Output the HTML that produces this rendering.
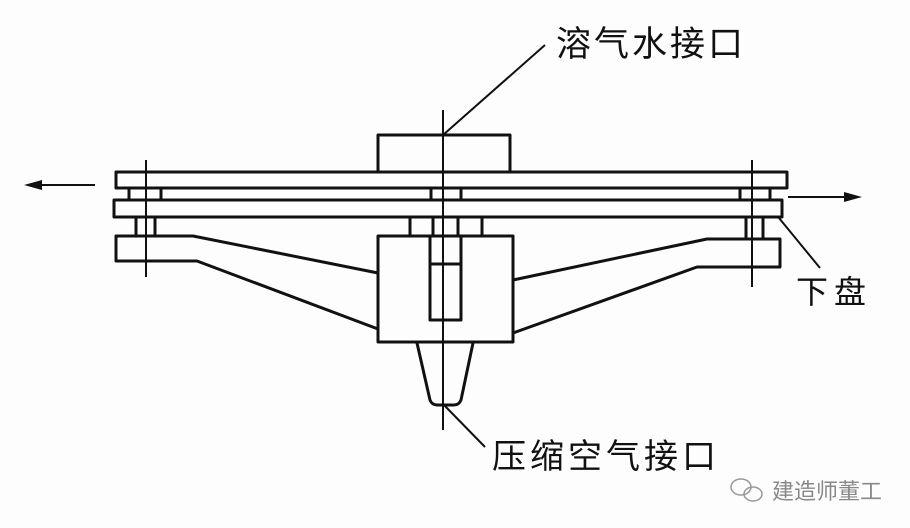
<!DOCTYPE html>
<html><head><meta charset="utf-8"><style>
html,body{margin:0;padding:0;background:#fff;}
svg{display:block}
text{font-family:"Liberation Sans","Noto Sans CJK SC",sans-serif;}
</style></head><body>
<svg width="910" height="528" viewBox="0 0 910 528" xmlns="http://www.w3.org/2000/svg">
<rect width="910" height="528" fill="#fdfdfd"/>
<g fill="none" stroke="#111" stroke-width="3" stroke-linejoin="round">
<!-- top box -->
<rect x="378" y="135" width="132" height="37"/>
<!-- top plate -->
<rect x="116" y="172" width="671" height="16"/>
<!-- spacers row 1 -->
<rect x="129" y="188" width="32" height="12"/>
<rect x="431" y="188" width="30" height="12"/>
<rect x="740" y="188" width="30" height="12"/>
<!-- second plate -->
<rect x="114" y="200" width="668" height="17"/>
<!-- spacers row 2 -->
<rect x="136" y="217" width="19" height="19"/>
<rect x="410" y="217" width="72" height="19"/>
<line x1="433" y1="217" x2="433" y2="236"/>
<line x1="458" y1="217" x2="458" y2="236"/>
<rect x="746" y="217" width="17" height="22"/>
<!-- center box -->
<rect x="378" y="236" width="135" height="106"/>
<rect x="430" y="236" width="31" height="84"/>
<line x1="430" y1="264" x2="461" y2="264"/>
<!-- left lower arm -->
<path d="M378 273 L193 236 L116 236 L116 261 L197 261 L378 329"/>
<!-- right lower arm -->
<path d="M513 280 L707 239 L780 239 L780 267 L697 267 L513 333"/>
<!-- nozzle -->
<path d="M417 343 L430 400 Q432 405 437 405 L454 405 Q459 405 461 400 L473 343"/>
</g>
<g stroke="#111" stroke-width="2" fill="none">
<!-- centerline -->
<line x1="443" y1="110" x2="443" y2="430"/>
<line x1="146" y1="160" x2="146" y2="277"/>
<line x1="752" y1="160" x2="752" y2="287"/>
<!-- leaders -->
<line x1="545" y1="45" x2="443" y2="135"/>
<line x1="444" y1="405" x2="485" y2="447"/>
<line x1="779" y1="218" x2="820" y2="268"/>
<!-- arrows -->
<line x1="40" y1="185" x2="95" y2="185"/>
<line x1="788" y1="197" x2="845" y2="197"/>
</g>
<path d="M24 185 L42 180 L42 190 Z" fill="#111"/>
<path d="M862 197 L844 192 L844 202 Z" fill="#111"/>
<text x="556" y="56" font-size="35" fill="#111" letter-spacing="3">溶气水接口</text>
<text x="492" y="468" font-size="34" fill="#111" letter-spacing="4">压缩空气接口</text>
<text x="796" y="303" font-size="32" fill="#111" letter-spacing="6">下盘</text>
<!-- watermark -->
<g fill="none" stroke="#999" stroke-width="1.5">
<ellipse cx="741" cy="487" rx="10" ry="8"/>
<ellipse cx="753" cy="494" rx="9" ry="7"/>
</g>
<text x="772" y="499" font-size="22" fill="#888">建造师董工</text>
</svg>
</body></html>
